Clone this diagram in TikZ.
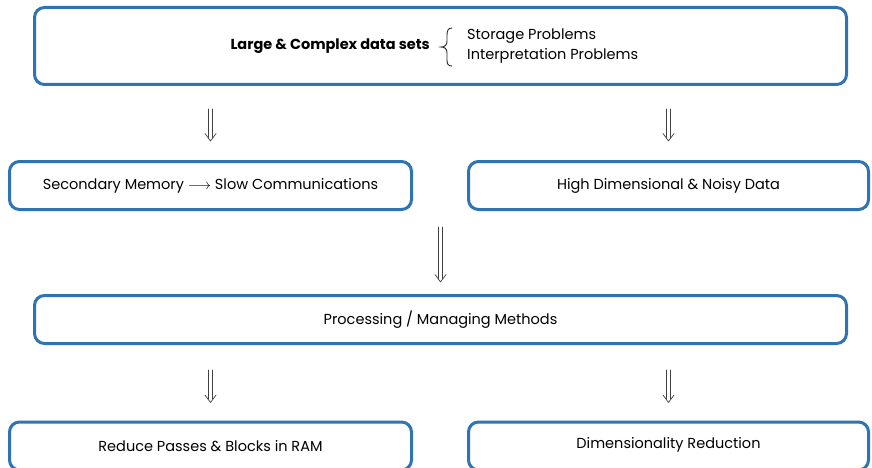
\documentclass[tikz,border=0pt]{standalone}
\usepackage{fontspec}
\setmainfont{Poppins}
\usetikzlibrary{calc}
\definecolor{boxblue}{RGB}{46,116,181}
\newcommand\dArrow[2]{%
  \draw[arrowline] ($(#1)+(-1.7,0)$) -- ($(#2)+(-1.7,-3.5)$);
  \draw[arrowline] ($(#1)+(1.7,0)$) -- ($(#2)+(1.7,-3.5)$);
  \draw[arrowline] ($(#2)+(-5.5,-7.5)$) .. controls ($(#2)+(-2.5,-3.5)$) .. (#2)
     .. controls ($(#2)+(2.5,-3.5)$) .. ($(#2)+(5.5,-7.5)$);
}
\begin{document}
\begin{tikzpicture}[x=1pt,y=-1pt,
  box/.style={draw=boxblue, line width=3pt, rounded corners=10pt, fill=white, inner sep=0pt},
  lbl/.style={font=\fontsize{14.5}{18}\selectfont, text=black, inner sep=0pt},
  arrowline/.style={draw=black!75, line width=0.7pt, line cap=round, line join=round},
  bracestyle/.style={draw=black!85, line width=0.9pt, line cap=round}]
\useasboundingbox[clip] (0,0) rectangle (872,468);
\node[box, minimum width=812pt, minimum height=77pt] (top) at (440.5,46) {};
\node[box, minimum width=402pt, minimum height=48pt] (sec) at (210.5,185.5) {};
\node[box, minimum width=400pt, minimum height=48pt] (hdim) at (668.5,185.5) {};
\node[box, minimum width=812pt, minimum height=48pt] (proc) at (440.5,319.5) {};
\node[box, minimum width=402pt, minimum height=48pt] (red) at (210.5,446) {};
\node[box, minimum width=400pt, minimum height=48pt] (dim) at (668.5,446) {};

\node[lbl, font=\fontsize{14.5}{18}\selectfont\bfseries, anchor=east] (large) at (430,46) {Large \& Complex data sets};
\draw[bracestyle] (452,28) .. controls (448,28) and (447,31) .. (447,35) -- (447,41)
  .. controls (447,45) and (445,47) .. (441,47)
  .. controls (445,47) and (447,49) .. (447,53) -- (447,60)
  .. controls (447,64) and (448,66) .. (452,66);
\node[lbl, anchor=west, align=left, font=\fontsize{14.5}{20}\selectfont] (probs) at (467,46.5) {Storage Problems\\Interpretation Problems};

\node[lbl] (tsec) at (210.5,186) {Secondary Memory $\longrightarrow$ Slow Communications};
\node[lbl] (thdim) at (hdim) {High Dimensional \& Noisy Data};
\node[lbl] (tproc) at (proc) {Processing / Managing Methods};
\node[lbl] (tred) at (210.5,446) {Reduce Passes \& Blocks in RAM};
\node[lbl] (tdim) at (668.5,444.5) {Dimensionality Reduction};

\path (top.south -| sec) ++(0,23) coordinate (a1);
\path (sec.north) ++(0,-19) coordinate (b1);
\path (top.south -| hdim) ++(0,23) coordinate (a2);
\path (hdim.north) ++(0,-19) coordinate (b2);
\path (sec.south -| proc) ++(0,16) coordinate (a3);
\path (proc.north) ++(0,-12) coordinate (b3);
\path (proc.south -| red) ++(0,25) coordinate (a4);
\path (red.north) ++(0,-18) coordinate (b4);
\path (proc.south -| dim) ++(0,25) coordinate (a5);
\path (dim.north) ++(0,-18) coordinate (b5);
\dArrow{a1}{b1}
\dArrow{a2}{b2}
\dArrow{a3}{b3}
\dArrow{a4}{b4}
\dArrow{a5}{b5}
\end{tikzpicture}
\end{document}
